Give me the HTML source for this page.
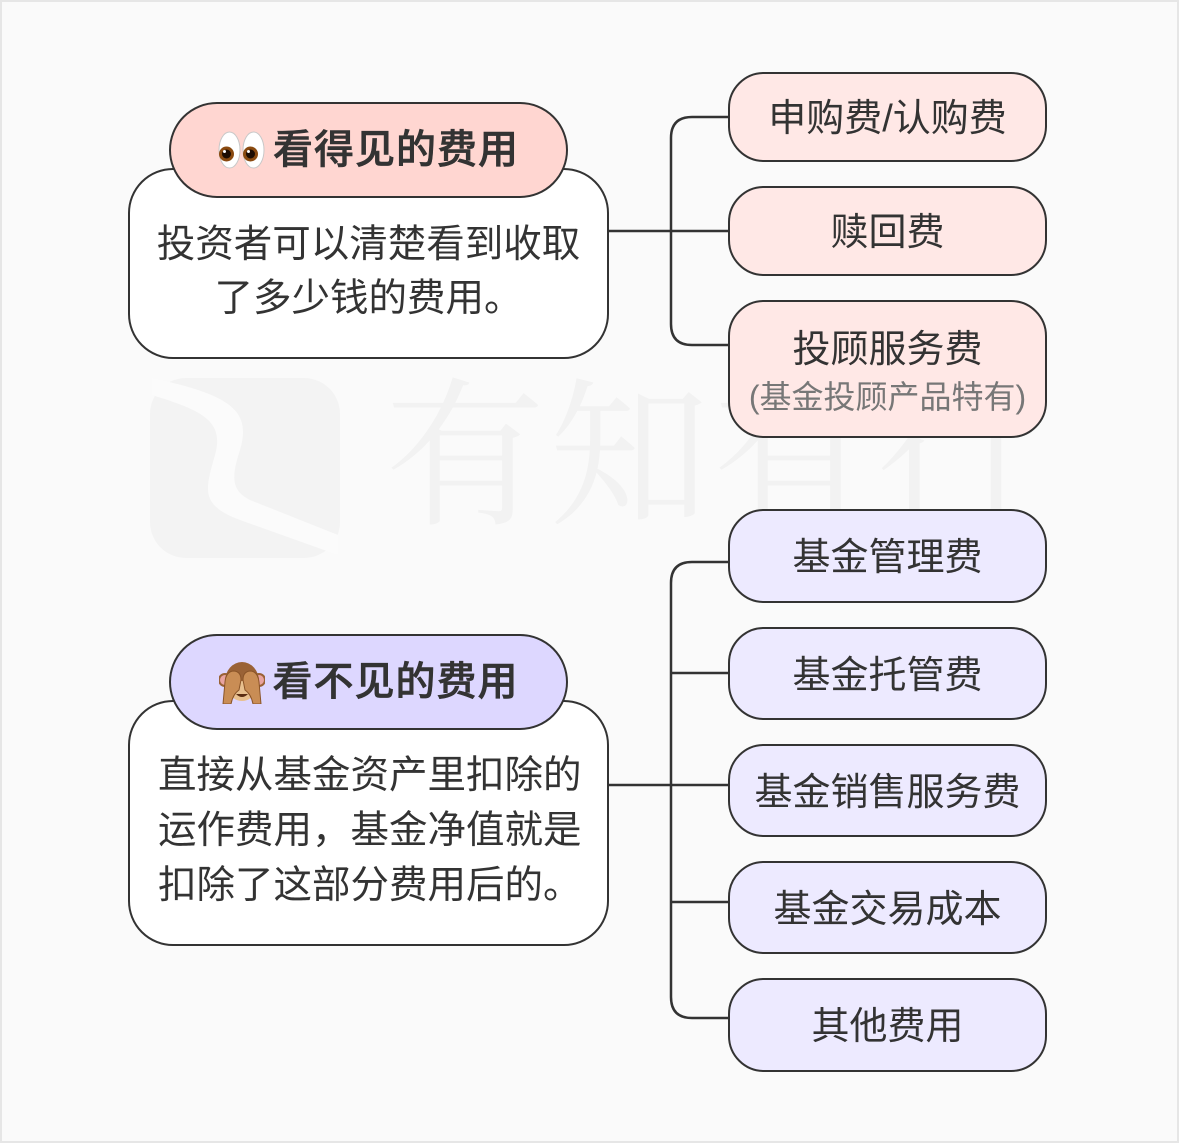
<!DOCTYPE html>
<html>
<head>
<meta charset="utf-8">
<style>
  html,body{margin:0;padding:0;}
  body{width:1179px;height:1143px;position:relative;overflow:hidden;background:#fafafa;
    font-family:"Liberation Sans","Noto Sans CJK SC",sans-serif;color:#333;}
  .frame{position:absolute;left:0;top:0;width:1179px;height:1143px;box-sizing:border-box;border:2px solid #e6e6e6;}
  .box{position:absolute;box-sizing:border-box;border:2.5px solid #333;}
  .desc{background:#fff;border-radius:45px;}
  .pill{border-radius:48px;display:flex;align-items:center;justify-content:center;}
  .pill span{font-size:40px;font-weight:500;-webkit-text-stroke:0.6px #333;letter-spacing:1px;white-space:nowrap;margin-left:8px;line-height:1;}
  .node{left:728px;width:319px;border-radius:36px;display:flex;flex-direction:column;align-items:center;justify-content:center;font-size:38px;white-space:nowrap;line-height:1.2;padding-top:6px;}
  .pink{background:#ffe8e6;}
  .lav{background:#edeaff;}
  .txt{position:absolute;font-size:38.5px;white-space:nowrap;}
  .sub{font-size:32px;color:#777;line-height:1.2;margin-top:4px;}
  .wm{position:absolute;left:385px;top:362px;font-family:"Liberation Serif","Noto Serif CJK SC",serif;font-size:160px;color:#f2f2f2;white-space:nowrap;letter-spacing:4px;line-height:1.2;}
</style>
</head>
<body>
<div class="frame"></div>

<!-- watermark -->
<svg style="position:absolute;left:0;top:0" width="1179" height="1143">
  <rect x="150" y="378" width="190" height="180" rx="36" fill="#f3f3f3"/>
  <path d="M152,395 C200,410 225,420 215,455 C205,490 200,505 240,520 L338,555 L338,535 L250,500 C230,490 232,475 240,450 C252,410 230,395 152,378 Z" fill="#fbfbfb"/>
</svg>
<div class="wm">有知有行</div>

<!-- connectors -->
<svg style="position:absolute;left:0;top:0" width="1179" height="1143" fill="none" stroke="#333" stroke-width="2.5">
  <path d="M609,231 H728"/>
  <path d="M728,117 H692 Q671,117 671,138 V324 Q671,345 692,345 H728"/>
  <path d="M609,785 H728"/>
  <path d="M728,562 H692 Q671,562 671,583 V997 Q671,1018 692,1018 H728"/>
  <path d="M671,673 H728"/>
  <path d="M671,902 H728"/>
</svg>

<!-- top group -->
<div class="box desc" style="left:128px;top:168px;width:481px;height:191px;"></div>
<div class="txt" style="left:128px;top:218px;width:481px;text-align:center;line-height:54px;">投资者可以清楚看到收取<br>了多少钱的费用。</div>
<div class="box pill" style="left:169px;top:102px;width:399px;height:96px;background:#ffd6d1;">
  <svg width="47" height="40" viewBox="0 0 47 40">
    <ellipse cx="11.5" cy="20" rx="10.5" ry="18" fill="#fff" stroke="#c8c8c8" stroke-width="1"/>
    <circle cx="8.5" cy="24" r="7.5" fill="#8a4a10"/>
    <circle cx="8.5" cy="24" r="4.5" fill="#1d0c02"/>
    <circle cx="6.5" cy="21.5" r="1.5" fill="#fff"/>
    <ellipse cx="35.5" cy="20" rx="10.5" ry="18" fill="#fff" stroke="#c8c8c8" stroke-width="1"/>
    <circle cx="32.5" cy="24" r="7.5" fill="#8a4a10"/>
    <circle cx="32.5" cy="24" r="4.5" fill="#1d0c02"/>
    <circle cx="30.5" cy="21.5" r="1.5" fill="#fff"/>
  </svg>
  <span>看得见的费用</span>
</div>

<div class="box node pink" style="top:72px;height:90px;">申购费/认购费</div>
<div class="box node pink" style="top:186px;height:90px;">赎回费</div>
<div class="box node pink" style="top:300px;height:138px;"><div>投顾服务费</div><div class="sub">(基金投顾产品特有)</div></div>

<!-- bottom group -->
<div class="box desc" style="left:128px;top:700px;width:481px;height:246px;"></div>
<div class="txt" style="left:158px;top:748px;line-height:55px;text-align:left;">直接从基金资产里扣除的<br>运作费用，基金净值就是<br>扣除了这部分费用后的。</div>
<div class="box pill" style="left:169px;top:634px;width:399px;height:96px;background:#ddd7ff;">
  <svg width="46" height="44" viewBox="0 0 46 44">
    <circle cx="6" cy="20" r="6" fill="#e9a3a0" stroke="#9a6236" stroke-width="2"/>
    <circle cx="40" cy="20" r="6" fill="#e9a3a0" stroke="#9a6236" stroke-width="2"/>
    <ellipse cx="23" cy="21" rx="17" ry="19" fill="#9a6236"/>
    <ellipse cx="23" cy="31" rx="12" ry="10" fill="#e8c08f"/>
    <path d="M17,34 Q23,40 29,34 Z" fill="#5a2d12"/>
    <path d="M4,44 L6,22 Q7,12 14,11 Q22,11 22,20 L20,30 Q14,34 12,44 Z" fill="#c98d55" stroke="#8a5428" stroke-width="1"/>
    <path d="M42,44 L40,22 Q39,12 32,11 Q24,11 24,20 L26,30 Q32,34 34,44 Z" fill="#c98d55" stroke="#8a5428" stroke-width="1"/>
  </svg>
  <span>看不见的费用</span>
</div>

<div class="box node lav" style="top:509px;height:94px;">基金管理费</div>
<div class="box node lav" style="top:627px;height:93px;">基金托管费</div>
<div class="box node lav" style="top:744px;height:93px;">基金销售服务费</div>
<div class="box node lav" style="top:861px;height:93px;">基金交易成本</div>
<div class="box node lav" style="top:978px;height:94px;">其他费用</div>
</body>
</html>
